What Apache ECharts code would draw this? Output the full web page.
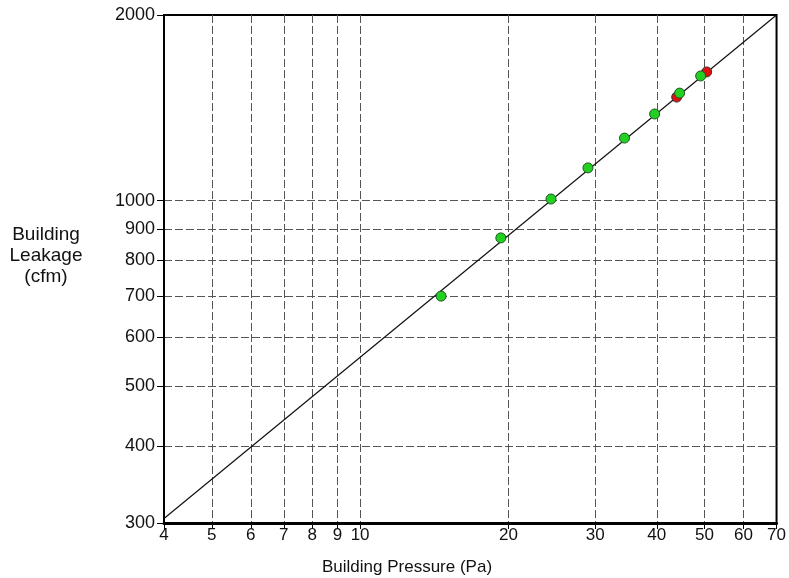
<!DOCTYPE html>
<html>
<head>
<meta charset="utf-8">
<script src="https://cdn.jsdelivr.net/npm/echarts@6/dist/echarts.min.js"></script>
<style>
html,body{margin:0;padding:0;background:#fff;}
#chart{width:789px;height:578px;}
</style>
</head>
<body>
<div id="chart"></div>
<script>
const xTicks = [4, 5, 6, 7, 8, 9, 10, 20, 30, 40, 50, 60, 70];
const yTicks = [300, 400, 500, 600, 700, 800, 900, 1000, 2000];
const pressureGreen = [14.6, 19.3, 24.4, 29.0, 34.4, 39.6, 44.5, 49.1];
const leakageGreen = [700, 870, 1006, 1130, 1263, 1382, 1494, 1593];
const pressureRed = [43.9, 50.5];
const leakageRed = [1472, 1617];
const fitPressure = [4, 70];
const fitLeakage = [305, 2000];
const xName = 'Building Pressure (Pa)';
const yName = 'Building\nLeakage\n(cfm)';

const zip = (a, b) => a.map((v, i) => [v, b[i]]);
const font = 'Liberation Sans, Arial, sans-serif';
const gridLine = { show: true, showMinLine: false, showMaxLine: false, lineStyle: { color: '#555', width: 1, type: [8, 3] } };

const chart = echarts.init(document.getElementById('chart'), null, { renderer: 'canvas' });
chart.setOption({
  animation: false,
  backgroundColor: '#fff',
  grid: { left: 164, right: 11, top: 15, bottom: 55, show: true, borderColor: '#000', borderWidth: 2, backgroundColor: 'transparent' },
  xAxis: {
    type: 'log', logBase: 10, min: 4, max: 70,
    axisLine: { show: true, lineStyle: { color: '#000', width: 3 } },
    axisTick: { show: true, length: 6, customValues: xTicks, lineStyle: { color: '#000', width: 1 } },
    axisLabel: { customValues: xTicks, color: '#111', fontFamily: font, fontSize: 17, margin: 4, formatter: v => String(Math.round(v)) },
    splitLine: gridLine
  },
  yAxis: {
    type: 'log', logBase: 10, min: 300, max: 2000,
    axisLine: { show: true, lineStyle: { color: '#000', width: 2 } },
    axisTick: { show: true, length: 7, customValues: yTicks, lineStyle: { color: '#000', width: 1 } },
    axisLabel: { customValues: yTicks, color: '#111', fontFamily: font, fontSize: 18, margin: 9, formatter: v => String(Math.round(v)) },
    splitLine: gridLine
  },
  graphic: [
    { type: 'text', style: { text: yName, x: 46, y: 256, align: 'center', verticalAlign: 'middle', font: '19px ' + font, lineHeight: 21, fill: '#111' } },
    { type: 'text', style: { text: xName, x: 407, y: 567, align: 'center', verticalAlign: 'middle', font: '17px ' + font, fill: '#111' } }
  ],
  series: [
    { type: 'line', data: zip(fitPressure, fitLeakage), symbol: 'none', lineStyle: { color: '#111', width: 1.2 }, z: 3 },
    { type: 'scatter', data: zip(pressureRed, leakageRed), symbolSize: 10, itemStyle: { color: '#e01010', borderColor: '#333', borderWidth: 1, opacity: 1 }, z: 4 },
    { type: 'scatter', data: zip(pressureGreen, leakageGreen), symbolSize: 10, itemStyle: { color: '#22d022', borderColor: '#225522', borderWidth: 1, opacity: 1 }, z: 5 }
  ]
});
</script>
</body>
</html>
